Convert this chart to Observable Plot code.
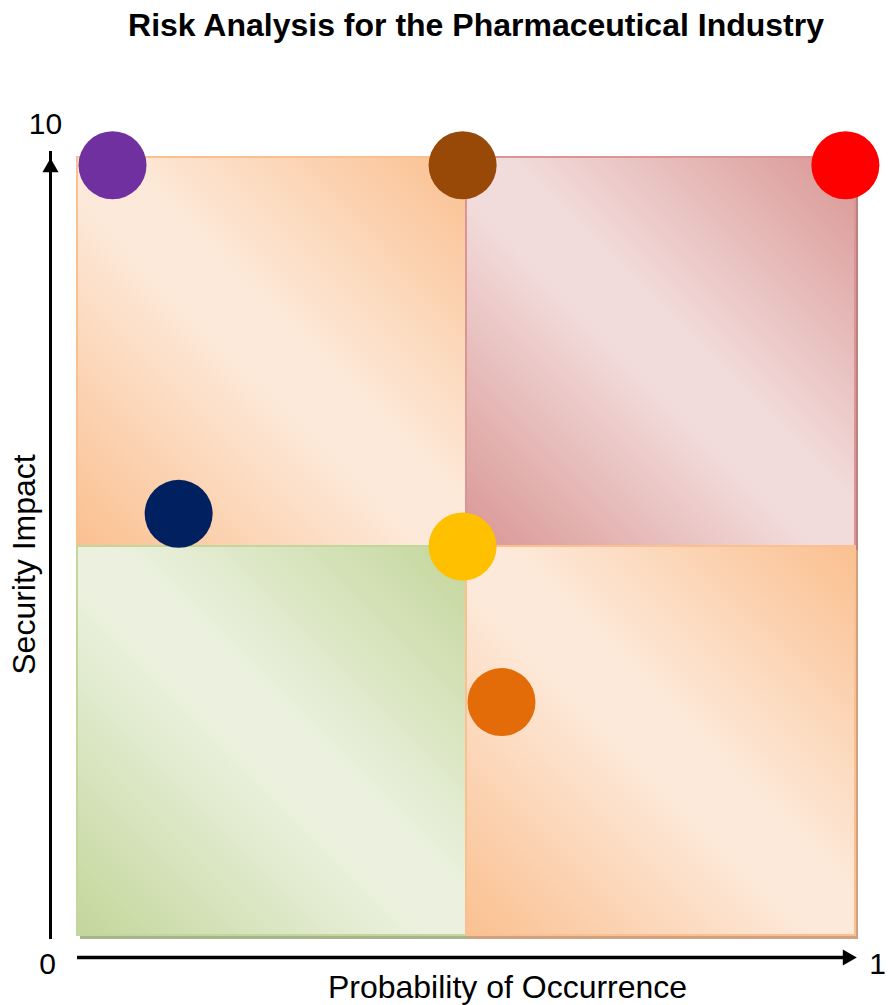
<!DOCTYPE html>
<html>
<head>
<meta charset="utf-8">
<script src="https://cdn.jsdelivr.net/npm/d3@7"></script>
<script src="https://cdn.jsdelivr.net/npm/@observablehq/plot@0.6"></script>
<style>
  body { margin: 0; background: #fff; font-family: "Liberation Sans", Arial, sans-serif; }
  #title { height: 50px; width: 888px; box-sizing: border-box; padding-left: 64px; text-align: center;
           font-weight: bold; font-size: 32px; line-height: 50px; color: #000; }
  #chart svg { display: block; }
</style>
</head>
<body>
<div id="title">Risk Analysis for the Pharmaceutical Industry</div>
<div id="chart"></div>
<script>
// Risk items: probability (0..1), impact (0..10), colour
const riskNames = ["A", "B", "C", "D", "E", "F"];
const probability = [0.045, 0.495, 0.987, 0.13, 0.495, 0.545];
const impact = [9.9, 9.9, 9.9, 5.42, 5.0, 3.0];
const riskColors = ["#7030a0", "#984807", "#ff0000", "#002060", "#ffc000", "#e36c09"];

// Quadrants
const quadX1 = [0, 0.5, 0, 0.5];
const quadX2 = [0.5, 1, 0.5, 1];
const quadY1 = [5, 5, 0, 0];
const quadY2 = [10, 10, 5, 5];
const quadGrad = ["gOrange", "gRed", "gGreen", "gOrange"];
const quadStroke = ["#fac090", "#d99694", "#c3d69b", "#fac090"];
const quadShadow = ["#d8a67c", "#b98280", "#a8b48c", "#d0a282"];

const gradients = {
  gOrange: ["#fac090", "#fde9d9"],
  gRed: ["#d99694", "#f2dcdb"],
  gGreen: ["#c3d69b", "#ebf1de"]
};

// Axis labels
const yTickLabels = ["0", "10"];
const xTickLabels = ["1"];
const xTitle = "Probability of Occurrence";
const yTitle = "Security Impact";

const risks = riskNames.map((n, i) => ({name: n, x: probability[i], y: impact[i], color: riskColors[i]}));
const quads = quadX1.map((_, i) => ({x1: quadX1[i], x2: quadX2[i], y1: quadY1[i], y2: quadY2[i],
  fill: `url(#${quadGrad[i]})`, stroke: quadStroke[i], shadow: quadShadow[i]}));

const font = "Liberation Sans, Arial, sans-serif";

const plot = Plot.plot({
  width: 888,
  height: 955,
  marginLeft: 77,
  marginRight: 33,
  marginTop: 107,
  marginBottom: 70,
  x: {domain: [0, 1], axis: null},
  y: {domain: [0, 10], axis: null},
  color: {type: "identity"},
  style: {fontFamily: font, background: "transparent"},
  marks: [
    // shadows
    Plot.rect(quads, {x1: "x1", x2: "x2", y1: "y1", y2: "y2", fill: "shadow", dx: 3, dy: 4}),
    // quadrants
    Plot.rect(quads, {x1: "x1", x2: "x2", y1: "y1", y2: "y2", fill: "fill", stroke: "stroke", strokeWidth: 2, inset: 0}),
    // y axis arrow
    Plot.ruleX([0], {y1: 0, y2: 10, dx: -27, dy: -6, stroke: "#000", strokeWidth: 3, insetTop: 10}),
    Plot.dot([{x: 0, y: 10}], {x: "x", y: "y", dx: -27, dy: 10, symbol: "triangle", r: 6, fill: "#000"}),
    // x axis arrow
    Plot.ruleY([0], {x1: 0, x2: 1, dy: 22, stroke: "#000", strokeWidth: 3.5, insetRight: 12}),
    Plot.dot([{x: 1, y: 0}], {x: "x", y: "y", dx: -8, dy: 22, symbol: "triangle", rotate: 90, r: 6, fill: "#000"}),
    // tick labels
    Plot.text([yTickLabels[1]], {x: 0, y: 10, text: d => d, dx: -32, dy: -33, fontSize: 30, fill: "#000"}),
    Plot.text([yTickLabels[0]], {x: 0, y: 0, text: d => d, dx: -30, dy: 29, fontSize: 30, fill: "#000"}),
    Plot.text([xTickLabels[0]], {x: 1, y: 0, text: d => d, dx: 22, dy: 29, fontSize: 30, fill: "#000"}),
    // axis titles
    Plot.text([xTitle], {x: 0.5, y: 0, text: d => d, dx: 41, dy: 52, fontSize: 32, fill: "#000"}),
    Plot.text([yTitle], {x: 0, y: 5, text: d => d, dx: -53, dy: 18, rotate: -90, fontSize: 32, fill: "#000"}),
    // risk points
    Plot.dot(risks, {x: "x", y: "y", r: 34, fill: "color"})
  ]
});

const defs = d3.select(plot).insert("defs", ":first-child");
for (const [id, [dark, light]] of Object.entries(gradients)) {
  const g = defs.append("linearGradient").attr("id", id)
    .attr("x1", 0).attr("y1", 1).attr("x2", 1).attr("y2", 0);
  g.append("stop").attr("offset", "0%").attr("stop-color", dark);
  g.append("stop").attr("offset", "45%").attr("stop-color", light);
  g.append("stop").attr("offset", "55%").attr("stop-color", light);
  g.append("stop").attr("offset", "100%").attr("stop-color", dark);
}

document.getElementById("chart").appendChild(plot);
</script>
</body>
</html>
